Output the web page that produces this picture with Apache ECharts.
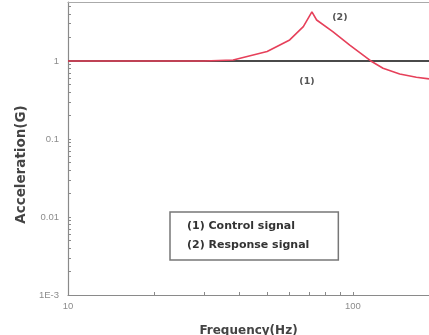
<!DOCTYPE html>
<html>
<head>
<meta charset="utf-8">
<script src="https://cdn.jsdelivr.net/npm/echarts@6/dist/echarts.min.js"></script>
<style>
  html, body { margin: 0; padding: 0; background: #fff; }
  #chart { width: 429px; height: 335px; }
</style>
</head>
<body>
<div id="chart"></div>
<script>
(function () {

    // frequency (Hz) / acceleration (G)
    var controlFreq  = [10, 185];
    var controlAcc   = [1, 1];
    var responseFreq = [10, 30, 38, 50, 60, 67, 71.8, 74.6, 85, 97.5, 115.6, 127.6, 146, 167, 185];
    var responseAcc  = [1, 1, 1.03, 1.32, 1.86, 2.75, 4.25, 3.35, 2.38, 1.6, 1.0, 0.806, 0.68, 0.618, 0.59];

    var xLabels = [10, 100];
    var xTicks  = [10, 20, 30, 40, 50, 60, 70, 80, 90, 100, 200];
    var yLabels = [0.001, 0.01, 0.1, 1];
    var yTicks  = [0.001, 0.002, 0.003, 0.004, 0.005, 0.006, 0.007, 0.008, 0.009,
                   0.01, 0.02, 0.03, 0.04, 0.05, 0.06, 0.07, 0.08, 0.09,
                   0.1, 0.2, 0.3, 0.4, 0.5, 0.6, 0.7, 0.8, 0.9,
                   1, 2, 3, 4, 5];

    var legendNames = ['(1) Control signal', '(2) Response signal'];

    function pairs(xs, ys) {
        var out = [];
        for (var i = 0; i < xs.length; i++) out.push([xs[i], ys[i]]);
        return out;
    }

    var chart = echarts.init(document.getElementById('chart'));
    var axisGray = '#8a8a8a';
    var labelStyle = { color: '#8c8c8c', fontSize: 9.5, fontFamily: 'Liberation Sans' };
    var tagLabel = { show: true, position: 'inside', color: '#555', fontSize: 9.5, fontWeight: 'bold', fontFamily: 'DejaVu Sans' };

    chart.setOption({
        animation: false,
        grid: { left: 68, right: 0, top: 2, bottom: 40, outerBoundsMode: 'none' },
        legend: {
            data: legendNames,
            orient: 'vertical',
            left: 170, top: 212,
            icon: 'none',
            itemWidth: 0, itemHeight: 11,
            itemGap: 8,
            padding: [9, 29, 9, 12],
            borderColor: '#777', borderWidth: 1.5,
            selectedMode: false,
            textStyle: { color: '#333', fontSize: 11, fontWeight: 'bold', fontFamily: 'DejaVu Sans' }
        },
        xAxis: [{
            type: 'log', logBase: 10, min: 10, max: 185,
            name: 'Frequency(Hz)', nameLocation: 'middle', nameGap: 30,
            nameTextStyle: { color: '#444', fontSize: 12, fontWeight: 'bold', fontFamily: 'DejaVu Sans', verticalAlign: 'top' },
            axisLine: { lineStyle: { color: axisGray, width: 1.2 } },
            axisTick: { inside: true, length: 3, customValues: xTicks, lineStyle: { color: axisGray } },
            axisLabel: Object.assign({ customValues: xLabels, margin: 6 }, labelStyle),
            splitLine: { show: false }
        }, {
            type: 'log', logBase: 10, min: 10, max: 185, position: 'top',
            axisLine: { lineStyle: { color: '#aaa', width: 1.2 } },
            axisTick: { show: false }, axisLabel: { show: false }, splitLine: { show: false }
        }],
        yAxis: {
            type: 'log', logBase: 10, min: 0.001, max: 5.7,
            name: 'Acceleration(G)', nameLocation: 'middle', nameGap: 40,
            nameTextStyle: { color: '#444', fontSize: 13.5, fontWeight: 'bold', fontFamily: 'DejaVu Sans', padding: [0, 0, 0, -32] },
            axisLine: { show: true, lineStyle: { color: axisGray, width: 1.2 } },
            axisTick: { inside: true, length: 3, customValues: yTicks, lineStyle: { color: axisGray } },
            axisLabel: Object.assign({
                customValues: yLabels, margin: 9,
                formatter: function (v) { return v < 0.005 ? '1E-3' : String(v); }
            }, labelStyle),
            splitLine: { show: false }
        },
        series: [{
            name: legendNames[0], type: 'line', symbol: 'none',
            lineStyle: { color: '#4a4a4a', width: 2 }, itemStyle: { color: '#4a4a4a' },
            data: pairs(controlFreq, controlAcc),
            markPoint: {
                symbol: 'circle', symbolSize: 1,
                itemStyle: { color: 'rgba(0,0,0,0)' },
                label: Object.assign({ formatter: '(1)' }, tagLabel),
                data: [{ coord: [69, 0.55] }]
            }
        }, {
            name: legendNames[1], type: 'line', symbol: 'none', z: 3,
            lineStyle: { color: '#e6405a', width: 1.6 }, itemStyle: { color: '#e6405a' },
            data: pairs(responseFreq, responseAcc),
            markPoint: {
                symbol: 'circle', symbolSize: 1,
                itemStyle: { color: 'rgba(0,0,0,0)' },
                label: Object.assign({ formatter: '(2)' }, tagLabel),
                data: [{ coord: [90, 3.6] }]
            }
        }]
    });

})();
</script>
</body>
</html>
